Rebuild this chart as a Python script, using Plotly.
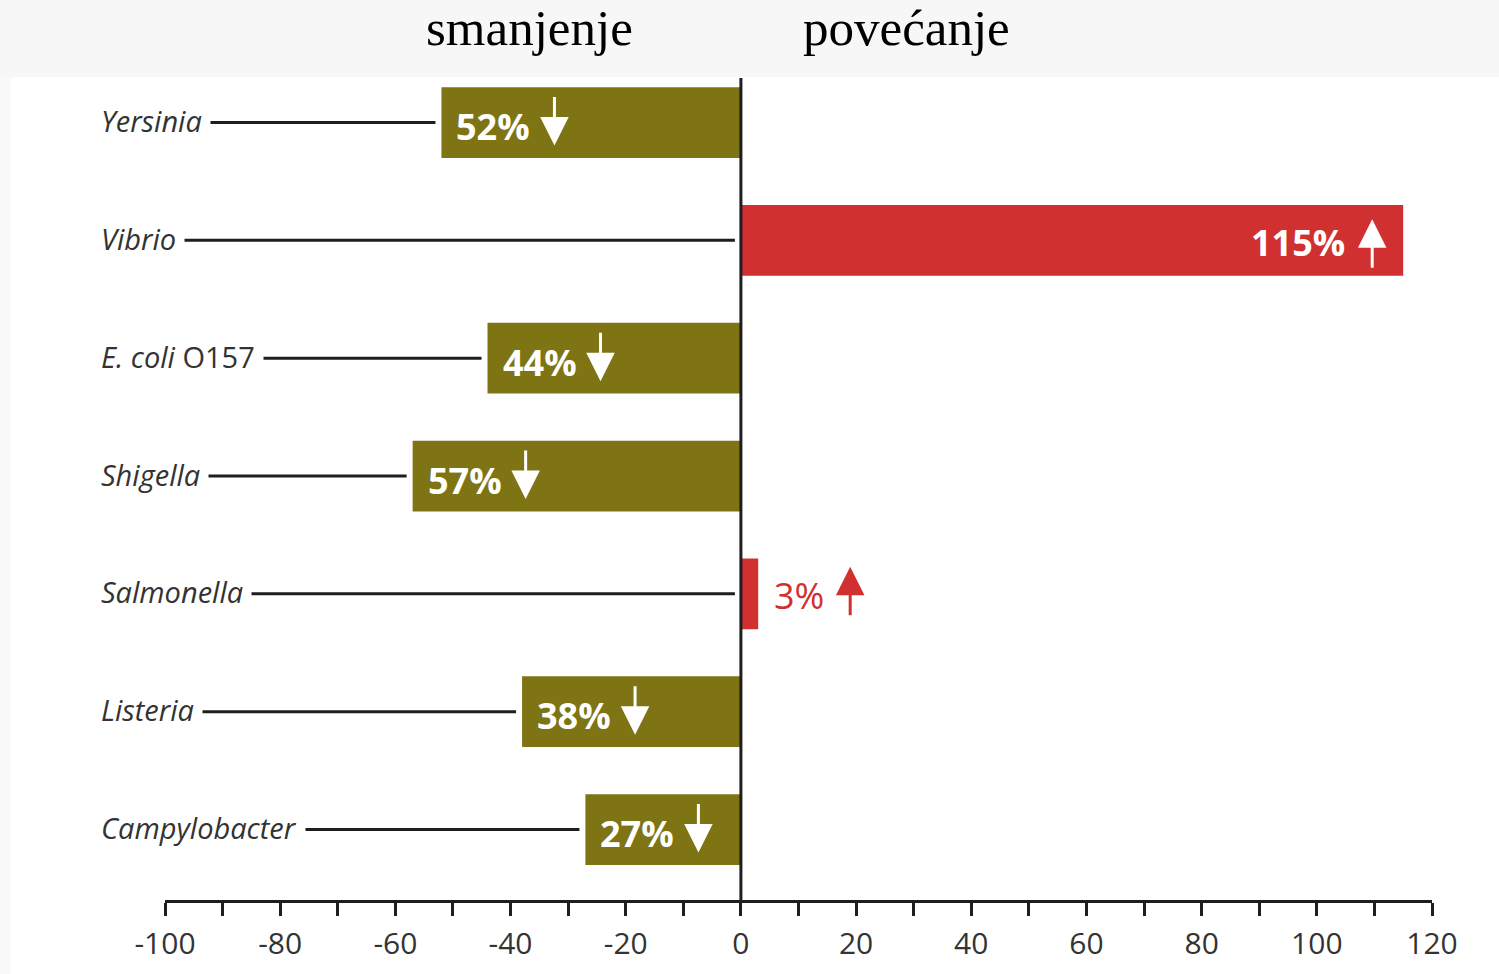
import plotly.graph_objects as go

# Change in incidence per pathogen (percent); negative = decrease
pathogens = ["Yersinia", "Vibrio", "E. coli O157", "Shigella",
             "Salmonella", "Listeria", "Campylobacter"]
pathogen_labels = ["<i>Yersinia</i>", "<i>Vibrio</i>", "<i>E. coli</i> O157",
                   "<i>Shigella</i>", "<i>Salmonella</i>", "<i>Listeria</i>",
                   "<i>Campylobacter</i>"]
change_pct = [-52, 115, -44, -57, 3, -38, -27]

tick_values = list(range(-100, 121, 10))
tick_labels = ["-100", "", "-80", "", "-60", "", "-40", "", "-20", "", "0",
               "", "20", "", "40", "", "60", "", "80", "", "100", "", "120"]

header_left = "smanjenje"
header_right = "povećanje"

OLIVE = "#7e7414"
RED = "#d0302f"
INK = "#1e1e1e"
LABEL_INK = "#333333"

X_MIN, X_MAX = -100, 120
W, H = 1499, 974
M_L, M_R, M_T, M_B = 165, 67, 78, 74
PW = W - M_L - M_R
PH = H - M_T - M_B


def to_paper_x(v):
    return (v - X_MIN) / (X_MAX - X_MIN)


def px_to_paper_x(px):
    return (px - M_L) / PW


def px_to_paper_y(py):
    return 1 - (py - M_T) / PH


colors = [OLIVE if v < 0 else RED for v in change_pct]

fig = go.Figure(go.Bar(
    x=change_pct,
    y=pathogens,
    orientation="h",
    width=0.6,
    marker=dict(color=colors, line=dict(width=0)),
    hoverinfo="skip",
))

shapes = []
annotations = []

# light header band and left margin strip
shapes.append(dict(type="rect", xref="paper", yref="paper",
                   x0=px_to_paper_x(-5), x1=px_to_paper_x(W + 5),
                   y0=px_to_paper_y(77), y1=px_to_paper_y(-5),
                   fillcolor="#f7f7f7", line=dict(width=0), layer="below"))
shapes.append(dict(type="rect", xref="paper", yref="paper",
                   x0=px_to_paper_x(-5), x1=px_to_paper_x(11),
                   y0=px_to_paper_y(H + 5), y1=px_to_paper_y(77),
                   fillcolor="#f9f9f9", line=dict(width=0), layer="below"))

for name, label, v in zip(pathogens, pathogen_labels, change_pct):
    # leader line from the name to the bar
    end = to_paper_x(min(v, 0)) - 6 / PW
    shapes.append(dict(type="line", xref="paper", yref="y",
                       x0=px_to_paper_x(120), x1=end, y0=name, y1=name,
                       line=dict(color=INK, width=3), layer="above"))
    # pathogen name (white box hides the start of the leader line)
    annotations.append(dict(
        x=px_to_paper_x(92), y=name, xref="paper", yref="y",
        text=label, showarrow=False, xanchor="left", yanchor="middle",
        bgcolor="white", borderpad=8, yshift=2,
        font=dict(family="Open Sans", size=29, color=LABEL_INK)))

    txt = f"{abs(v)}%"
    if v < 0:
        annotations.append(dict(
            x=v, y=name, xref="x", yref="y", text=f"<b>{txt}</b>",
            showarrow=False, xanchor="left", yanchor="middle", xshift=13,
            yshift=-4, font=dict(family="Open Sans", size=36, color="white")))
        annotations.append(dict(
            x=v, y=name, xref="x", yref="y", text="", showarrow=True,
            ax=0, ay=-50, arrowhead=2, arrowsize=1.9, arrowwidth=3,
            arrowcolor="white", standoff=0, startstandoff=0,
            xshift=113, yshift=-23))
    elif v > 10:
        annotations.append(dict(
            x=v, y=name, xref="x", yref="y", text=f"<b>{txt}</b>",
            showarrow=False, xanchor="right", yanchor="middle", xshift=-56,
            yshift=-2, font=dict(family="Open Sans", size=36, color="white")))
        annotations.append(dict(
            x=v, y=name, xref="x", yref="y", text="", showarrow=True,
            ax=0, ay=50, arrowhead=2, arrowsize=1.9, arrowwidth=3,
            arrowcolor="white", standoff=0, startstandoff=0,
            xshift=-31, yshift=21))
    else:
        annotations.append(dict(
            x=v, y=name, xref="x", yref="y", text=txt,
            showarrow=False, xanchor="left", yanchor="middle", xshift=14,
            yshift=-2, font=dict(family="Open Sans", size=36, color=RED)))
        annotations.append(dict(
            x=v, y=name, xref="x", yref="y", text="", showarrow=True,
            ax=0, ay=50, arrowhead=2, arrowsize=1.9, arrowwidth=3,
            arrowcolor=RED, standoff=0, startstandoff=0,
            xshift=92, yshift=27))

# vertical zero line drawn over the bars
shapes.append(dict(type="line", xref="x", yref="paper", x0=0, x1=0,
                   y0=0, y1=1, line=dict(color=INK, width=3), layer="above"))

# headers
for text, px in [(header_left, 529), (header_right, 906)]:
    annotations.append(dict(
        x=px_to_paper_x(px), y=px_to_paper_y(28), xref="paper", yref="paper",
        text=text, showarrow=False, xanchor="center", yanchor="middle",
        font=dict(family="Liberation Serif", size=51, color="black")))

fig.update_layout(
    width=W, height=H,
    margin=dict(l=M_L, r=M_R, t=M_T, b=M_B, pad=0),
    paper_bgcolor="white", plot_bgcolor="white",
    showlegend=False,
    shapes=shapes,
    annotations=annotations,
    xaxis=dict(
        range=[X_MIN, X_MAX], showgrid=False, zeroline=False,
        showline=True, linecolor=INK, linewidth=3,
        ticks="outside", ticklen=13, tickwidth=3, tickcolor=INK,
        tickmode="array", tickvals=tick_values, ticktext=tick_labels,
        tickfont=dict(family="Open Sans", size=30, color=LABEL_INK),
        ticklabelstandoff=2,
        fixedrange=True,
    ),
    yaxis=dict(
        type="category", categoryorder="array", categoryarray=pathogens,
        range=[6.598, -0.378], visible=False, showgrid=False,
        zeroline=False, fixedrange=True,
    ),
)

fig.write_html("out.html", config={"displayModeBar": False})
